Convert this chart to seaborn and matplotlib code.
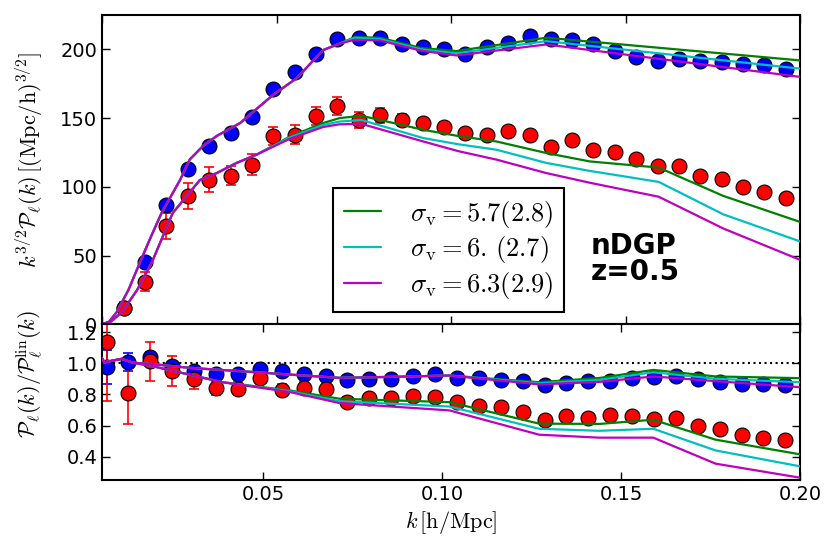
import matplotlib
matplotlib.use('Agg')
from matplotlib import pyplot as plt
import seaborn as sns

# measured k bins (h/Mpc)
k = [0.0062, 0.0123, 0.0184, 0.0246, 0.0307, 0.0368, 0.0429, 0.0490,
     0.0552, 0.0613, 0.0674, 0.0735, 0.0796, 0.0858, 0.0919, 0.0980,
     0.1041, 0.1102, 0.1164, 0.1225, 0.1286, 0.1347, 0.1408, 0.1470,
     0.1531, 0.1592, 0.1653, 0.1714, 0.1776, 0.1837, 0.1898, 0.1959]

# top panel: k^{3/2} P_l(k)
p0_top = [11.5, 45.4, 86.7, 113.3, 130.0, 139.0, 150.7, 171.0, 183.3, 196.9, 207.5,
          208.0, 208.4, 203.6, 201.7, 200.0, 196.4, 201.7, 205.0, 209.4, 207.6, 206.7,
          204.0, 198.8, 194.7, 191.5, 192.7, 191.3, 190.6, 189.3, 188.6, 185.5]
p0_top_err = [1.0, 1.5, 2.0, 2.0, 2.0, 2.0, 2.0, 2.0, 1.8, 1.8, 1.8, 1.5, 1.5, 1.5, 1.5, 1.5,
              1.2, 1.2, 1.2, 1.2, 1.2, 1.2, 1.0, 1.0, 1.0, 1.0, 1.0, 1.0, 1.0, 1.0, 1.0, 1.0]
p2_top = [12.0, 30.9, 71.4, 93.2, 105.3, 108.0, 116.2, 136.7, 137.9, 151.5, 159.0,
          148.6, 152.0, 148.6, 146.7, 143.8, 138.9, 137.7, 140.4, 137.5, 129.0, 134.0,
          127.0, 125.0, 120.3, 115.0, 115.4, 108.0, 106.0, 100.0, 96.0, 92.0]
p2_top_err = [4.0, 7.0, 9.4, 9.4, 9.2, 7.0, 7.5, 6.6, 6.9, 6.5, 6.6, 6.0, 5.4, 4.6, 3.6, 3.3,
              3.0, 3.0, 2.8, 2.6, 2.4, 2.2, 2.0, 2.0, 2.0, 2.0, 2.0, 2.0, 2.0, 2.0, 2.0, 2.0]

# bottom panel: P_l / P_l^lin
p0_ratio = [0.974, 1.006, 1.043, 0.981, 0.949, 0.928, 0.928, 0.960, 0.949, 0.932, 0.917,
            0.895, 0.896, 0.896, 0.921, 0.928, 0.904, 0.907, 0.889, 0.885, 0.863, 0.874,
            0.885, 0.887, 0.906, 0.910, 0.915, 0.896, 0.879, 0.869, 0.864, 0.862]
p0_ratio_err = [0.11, 0.058, 0.03, 0.02, 0.012, 0.01, 0.01, 0.01, 0.01, 0.01, 0.01,
                0.01, 0.01, 0.01, 0.01, 0.01, 0.01, 0.01, 0.01, 0.01, 0.01, 0.01,
                0.01, 0.01, 0.01, 0.01, 0.01, 0.01, 0.01, 0.01, 0.01, 0.01]
p2_ratio = [1.139, 0.810, 1.013, 0.949, 0.900, 0.840, 0.836, 0.906, 0.829, 0.840, 0.832,
            0.752, 0.778, 0.778, 0.788, 0.786, 0.754, 0.728, 0.718, 0.686, 0.637, 0.660,
            0.649, 0.665, 0.660, 0.639, 0.646, 0.596, 0.578, 0.542, 0.520, 0.505]
p2_ratio_err = [0.38, 0.20, 0.126, 0.096, 0.067, 0.045, 0.043, 0.03, 0.04, 0.037, 0.035,
                0.03, 0.025, 0.02, 0.02, 0.02, 0.02, 0.02, 0.02, 0.02, 0.02, 0.02,
                0.02, 0.02, 0.02, 0.02, 0.02, 0.02, 0.02, 0.02, 0.02, 0.02]

# model curves
sigma_labels = [r'$\sigma_{\rm v}=5.7(2.8)$', r'$\sigma_{\rm v}=6.\,(2.7)$', r'$\sigma_{\rm v}=6.3(2.9)$']
colors = ['g', 'c', 'm']

kt_p0 = [0.0, 0.002, 0.0041, 0.0075, 0.0108, 0.014, 0.017, 0.0223, 0.0251, 0.029, 0.0328,
         0.0395, 0.049, 0.0557, 0.0633, 0.0681, 0.0724, 0.0796, 0.0915, 0.1015, 0.1273, 0.2]
p0_model_low = [0, 2, 8.7, 25, 45, 64, 81, 105, 120, 130, 137, 146.4, 167, 179, 199.5, 204.3]
p0_model_high = [[209.0, 208.5, 201.0, 198.8, 208.5, 192.0],
                 [208.5, 207.5, 200.0, 197.2, 206.0, 186.0],
                 [207.0, 206.5, 199.0, 195.6, 203.6, 180.0]]

kt_p2 = [0.0, 0.0025, 0.0056, 0.01, 0.0142, 0.0202, 0.028, 0.0328, 0.0385, 0.0442, 0.0538,
         0.0633, 0.068, 0.0743, 0.092, 0.102, 0.113, 0.1273, 0.1397, 0.1595, 0.178, 0.2]
p2_model_low = [0, 2, 8.7, 25, 45, 81, 105, 110, 117.4, 123.4]
p2_model_high = [[136.6, 146.4, 150.0, 151.7, 141.5, 137.0, 133.0, 124.6, 118.5, 114.0, 93.4, 74.5],
                 [136.0, 145.0, 147.5, 148.6, 135.5, 131.0, 127.0, 117.4, 111.6, 103.6, 80.0, 60.3],
                 [135.0, 143.5, 145.5, 145.8, 133.0, 126.0, 119.8, 110.0, 103.0, 92.8, 69.7, 46.9]]

kt_r0 = [0.005, 0.0056, 0.0071, 0.0104, 0.0136, 0.0183, 0.0295, 0.0481, 0.0574, 0.0713,
         0.085, 0.102, 0.1271, 0.1439, 0.159, 0.1764, 0.2]
r0_model_low = [1.03, 1.005, 1.013, 1.028, 1.003, 0.996, 0.970, 0.942, 0.927, 0.906, 0.912, 0.921]
r0_model_high = [[0.878, 0.905, 0.957, 0.915, 0.904],
                 [0.871, 0.893, 0.942, 0.900, 0.878],
                 [0.864, 0.880, 0.915, 0.885, 0.846]]

kt_r2 = [0.005, 0.0056, 0.0071, 0.0104, 0.0136, 0.0183, 0.0386, 0.0574, 0.0713,
         0.102, 0.1271, 0.1439, 0.159, 0.1764, 0.2]
r2_model_low = [1.03, 1.005, 1.013, 1.028, 1.003, 0.985, 0.878]
r2_model_high = [[0.825, 0.772, 0.750, 0.612, 0.610, 0.637, 0.509, 0.415],
                 [0.820, 0.756, 0.722, 0.579, 0.566, 0.579, 0.440, 0.338],
                 [0.815, 0.744, 0.697, 0.541, 0.522, 0.522, 0.355, 0.265]]

sns.set_style('ticks', {'xtick.direction': 'in', 'ytick.direction': 'in'})
plt.rcParams['mathtext.fontset'] = 'cm'
plt.rcParams['font.family'] = ['DejaVu Sans']
plt.rcParams['text.color'] = 'k'
plt.rcParams['axes.labelcolor'] = 'k'

fig = plt.figure(figsize=(8.39, 5.59), dpi=100)
ax1 = fig.add_axes([0.1219, 0.4199, 0.8316, 0.5532])
ax2 = fig.add_axes([0.1219, 0.1413, 0.8316, 0.2786])

# top panel
for vals, err, col in [(p0_top, p0_top_err, 'b'), (p2_top, p2_top_err, 'r')]:
    ax1.errorbar(k, vals, yerr=err, fmt='none', ecolor=col, elinewidth=1.2, capsize=3.8,
                 capthick=1.2, zorder=1)
    sns.scatterplot(x=k, y=vals, color=col, s=115, edgecolor='k', linewidth=0.8, ax=ax1, zorder=2)

for i in range(3):
    sns.lineplot(x=kt_p0, y=p0_model_low + p0_model_high[i], color=colors[i], lw=1.6,
                 ax=ax1, zorder=3, label=sigma_labels[i])
    sns.lineplot(x=kt_p2, y=p2_model_low + p2_model_high[i], color=colors[i], lw=1.6,
                 ax=ax1, zorder=3)

ax1.set_xlim(0, 0.2)
ax1.set_ylim(0, 225)
ax1.set_xticks([0.0, 0.05, 0.1, 0.15, 0.2])
ax1.set_xticklabels([])
ax1.set_yticks([0, 50, 100, 150, 200])
ax1.set_ylabel(r'$k^{3/2}\mathcal{P}_\ell(k)\,[({\rm Mpc/h})^{3/2}]$', fontsize=16)
ax1.yaxis.set_label_coords(-0.082, 0.533)
leg = ax1.legend(loc='lower left', bbox_to_anchor=(0.331, 0.041), borderaxespad=0,
                 fontsize=19, frameon=True, fancybox=False, framealpha=1,
                 edgecolor='k', handlelength=1.4, handletextpad=1.1, labelspacing=0.18,
                 borderpad=0.4)
leg.get_frame().set_linewidth(1.5)
ax1.text(0.70, 0.30, 'nDGP\nz=0.5', transform=ax1.transAxes, fontsize=20, color='k',
         fontweight='bold', ha='left', va='top', linespacing=0.95)

# bottom panel
ax2.axhline(1.0, color='k', ls=':', lw=1.5, zorder=0)
for vals, err, col in [(p0_ratio, p0_ratio_err, 'b'), (p2_ratio, p2_ratio_err, 'r')]:
    ax2.errorbar(k, vals, yerr=err, fmt='none', ecolor=col, elinewidth=1.2, capsize=3.8,
                 capthick=1.2, zorder=1)
    sns.scatterplot(x=k, y=vals, color=col, s=115, edgecolor='k', linewidth=0.8, ax=ax2, zorder=2)

for i in range(3):
    sns.lineplot(x=kt_r0, y=r0_model_low + r0_model_high[i], color=colors[i], lw=1.6,
                 ax=ax2, zorder=3)
    sns.lineplot(x=kt_r2, y=r2_model_low + r2_model_high[i], color=colors[i], lw=1.6,
                 ax=ax2, zorder=3)

ax2.set_xlim(0.005, 0.2)
ax2.set_ylim(0.25, 1.25)
ax2.set_xticks([0.05, 0.10, 0.15, 0.20])
ax2.set_xticklabels(['0.05', '0.10', '0.15', '0.20'])
ax2.set_yticks([0.4, 0.6, 0.8, 1.0, 1.2])
ax2.set_yticklabels(['0.4', '0.6', '0.8', '1.0', '1.2'])
ax2.set_ylabel(r'$\mathcal{P}_\ell(k)/\mathcal{P}_\ell^{\rm lin}(k)$', fontsize=16)
ax2.yaxis.set_label_coords(-0.082, 0.678)
ax2.set_xlabel(r'$k\,[{\rm h/Mpc}]$', fontsize=16)

for ax in (ax1, ax2):
    ax.tick_params(which='both', direction='in', top=True, right=True, length=5.5,
                   width=1, labelsize=14, colors='k')
    for sp in ax.spines.values():
        sp.set_linewidth(1.5)
        sp.set_color('k')

fig.savefig('out.png', dpi=100)
